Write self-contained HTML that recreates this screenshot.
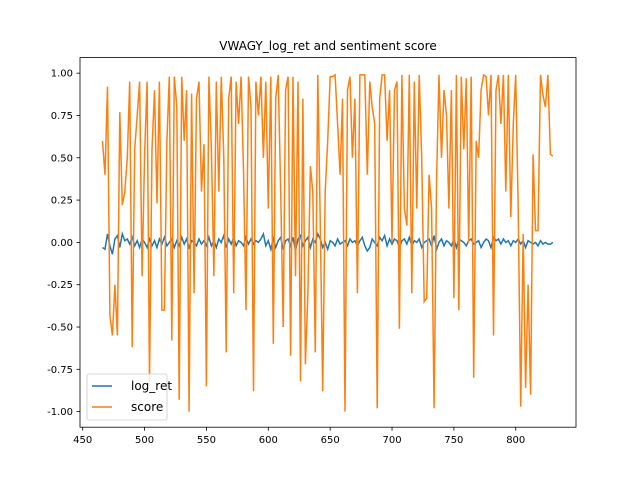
<!DOCTYPE html>
<html><head><meta charset="utf-8"><style>
body{margin:0;background:#fff;font-family:"Liberation Sans","DejaVu Sans",sans-serif}
svg text{font-family:"DejaVu Sans","Liberation Sans",sans-serif;font-size:10px;fill:#000}
</style></head><body>
<svg id="chart" width="640" height="480" xmlns="http://www.w3.org/2000/svg">
<rect width="640" height="480" fill="#fff"/>
<text x="328" y="50" text-anchor="middle" style="font-size:12px">VWAGY_log_ret and sentiment score</text>
<g id="marks"></g>
<rect x="80" y="57.6" width="496" height="369.6" fill="none" stroke="#000" stroke-width="0.8"/>
<g id="axes"></g>
<g>
<rect x="87" y="374" width="80" height="46" rx="2" fill="#fff" fill-opacity="0.8" stroke="#ccc" stroke-width="0.8"/>
<line x1="92" y1="386" x2="112" y2="386" stroke="#1f77b4" stroke-width="1.5"/>
<text x="131" y="390" style="font-size:12px">log_ret</text>
<line x1="92" y1="407" x2="112" y2="407" stroke="#ff7f0e" stroke-width="1.5"/>
<text x="131" y="411" style="font-size:12px">score</text>
</g>
</svg>
<script>
const xStart = 466, xStep = 2;
const xTicks = [450,500,550,600,650,700,750,800];
const yTicks = [-1.00,-0.75,-0.50,-0.25,0.00,0.25,0.50,0.75,1.00];
const score = [0.6,0.4,0.92,-0.43,-0.55,-0.25,-0.55,0.77,0.22,0.3,0.5,0.95,-0.62,0.55,0.75,0.95,-0.2,0.52,
0.95,-0.82,0.55,0.9,0.23,0.95,-0.4,-0.4,0.6,0.98,-0.58,0.98,0.8,-0.93,0.98,0.6,0.9,-1.0,0.88,-0.3,0.85,0.95,0.3,0.58,-0.85,
0.98,0.55,-0.2,0.95,0.3,0.98,0.5,-0.65,0.85,0.98,-0.3,0.95,0.7,0.98,0.4,-0.4,0.98,0.8,-0.88,0.95,0.75,0.98,0.5,0.95,0.2,
0.98,-0.6,0.85,0.99,0.3,-0.5,0.9,0.98,-0.67,0.98,-0.2,0.95,-0.82,0.85,-0.72,-0.3,0.45,0.3,-0.65,0.99,0.1,-0.88,0.3,0.6,0.98,
0.98,0.99,0.7,0.4,0.85,-1.0,0.9,0.98,0.5,0.85,-0.3,0.99,0.99,0.99,0.4,0.95,0.8,0.7,-0.98,0.85,0.99,0.99,0.6,0.9,0.0,
0.9,0.95,-0.51,0.99,0.2,0.1,0.99,-0.3,0.95,0.2,0.99,0.5,-0.35,-0.33,0.4,0.2,-0.98,0.38,0.99,0.5,0.9,0.75,0.2,0.9,-0.33,
0.99,-0.4,0.98,0.55,0.97,0.0,0.98,-0.8,0.6,0.5,0.9,0.99,0.98,0.75,0.99,-0.55,0.9,0.99,0.7,0.99,0.3,0.99,0.15,0.7,0.99,
0.2,-0.97,0.05,-0.86,-0.25,-0.9,0.52,0.07,0.07,0.99,0.87,0.8,0.99,0.52,0.51];
const logRet = [-0.03,-0.04,0.05,-0.02,-0.07,0.02,0.04,-0.03,0.05,0.01,0.02,-0.01,0.03,-0.02,0.01,-0.03,0.02,0.0,
-0.03,0.02,-0.02,0.01,-0.03,0.02,-0.01,0.03,-0.02,0.0,0.02,-0.03,0.01,-0.02,0.03,-0.01,0.02,-0.03,0.01,0.0,-0.02,0.02,-0.01,0.01,-0.02,
0.03,-0.02,0.01,-0.03,0.02,0.0,0.04,-0.03,0.02,-0.01,0.03,-0.02,0.01,0.0,-0.02,0.03,-0.01,0.02,-0.01,0.01,0.0,0.02,0.05,-0.02,0.01,
-0.04,0.02,-0.03,0.01,0.03,-0.04,0.01,0.02,-0.02,0.03,-0.05,0.02,0.04,-0.02,0.01,0.03,-0.03,0.02,0.0,0.05,0.02,-0.03,0.0,-0.04,0.01,
0.0,-0.02,0.02,-0.01,0.0,0.01,-0.02,0.02,0.0,0.01,-0.02,0.01,0.03,-0.02,-0.05,-0.03,0.02,0.0,-0.02,0.03,0.01,0.04,-0.02,0.02,-0.01,
0.02,0.01,-0.03,0.01,0.02,-0.01,0.03,-0.02,0.01,0.0,0.02,-0.03,0.0,0.01,0.02,-0.02,0.04,-0.04,0.0,0.02,-0.02,0.01,0.0,-0.02,0.02,
-0.03,0.02,0.01,0.0,-0.02,0.01,0.02,-0.01,0.0,0.01,-0.03,0.0,0.02,0.01,-0.03,0.03,0.01,0.02,-0.01,0.02,0.0,0.01,-0.02,0.01,0.0,
0.02,-0.01,0.01,-0.03,0.01,0.0,-0.01,0.0,-0.02,0.01,-0.01,0.0,-0.01,-0.01,0.0];
const L=80,R=576,T=57.6,B=427.2;
const xMin=447.8,xMax=848.7,yMin=-1.092,yMax=1.092;
const X=v=>L+(v-xMin)/(xMax-xMin)*(R-L);
const Y=v=>B-(v-yMin)/(yMax-yMin)*(B-T);
const NS='http://www.w3.org/2000/svg';
const marks=document.getElementById('marks'), axes=document.getElementById('axes');
function line(arr,color,name){
  const p=document.createElementNS(NS,'polyline');
  p.setAttribute('points',arr.map((v,i)=>X(xStart+i*xStep).toFixed(1)+','+Y(v).toFixed(1)).join(' '));
  p.setAttribute('fill','none');p.setAttribute('stroke',color);p.setAttribute('stroke-width','1.5');
  
  
  marks.appendChild(p);
}
line(logRet,'#1f77b4','log-ret-line');
line(score,'#ff7f0e','score-line');
xTicks.forEach(t=>{
  const x=X(t);
  const l=document.createElementNS(NS,'line');
  l.setAttribute('x1',x);l.setAttribute('x2',x);l.setAttribute('y1',B);l.setAttribute('y2',B+3.5);l.setAttribute('stroke','#000');l.setAttribute('stroke-width','0.8');
  
  
  axes.appendChild(l);
  const tx=document.createElementNS(NS,'text');
  tx.setAttribute('x',x);tx.setAttribute('y',B+16);tx.setAttribute('text-anchor','middle');tx.textContent=t;
  
  
  axes.appendChild(tx);
});
yTicks.forEach(t=>{
  const y=Y(t);
  const l=document.createElementNS(NS,'line');
  l.setAttribute('x1',L-3.5);l.setAttribute('x2',L);l.setAttribute('y1',y);l.setAttribute('y2',y);l.setAttribute('stroke','#000');l.setAttribute('stroke-width','0.8');
  
  
  axes.appendChild(l);
  const tx=document.createElementNS(NS,'text');
  tx.setAttribute('x',L-7);tx.setAttribute('y',y+3.5);tx.setAttribute('text-anchor','end');tx.textContent=t.toFixed(2);
  
  
  axes.appendChild(tx);
});
</script>
</body></html>
